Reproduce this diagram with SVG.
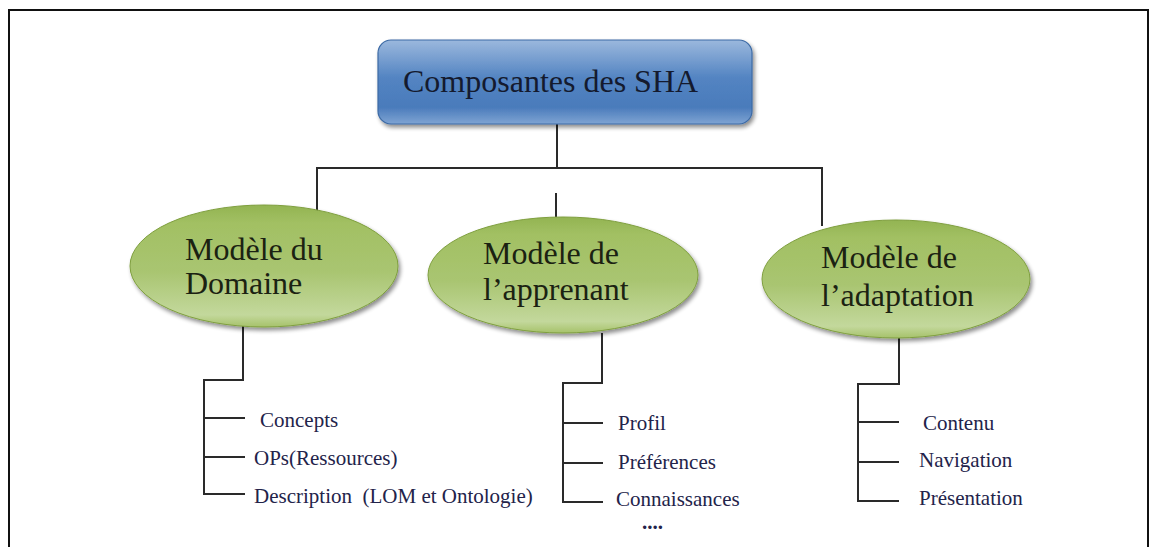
<svg xmlns="http://www.w3.org/2000/svg" width="1151" height="547" viewBox="0 0 1151 547">
  <style>
    .title { font-family: "Liberation Serif", "Times New Roman", serif; font-size: 32px; fill: #141a2e; }
    .elabel { font-family: "Liberation Serif", "Times New Roman", serif; font-size: 32px; fill: #1b2212; }
    .item { font-family: "Liberation Serif", "Times New Roman", serif; font-size: 21px; fill: #23234a; }
    .conn { fill: none; stroke: #2a2a2a; stroke-width: 2; }
    .ell { fill: url(#green); stroke: #7f9f3f; stroke-width: 1; filter: url(#shadow); }
  </style>
  <defs>
    <linearGradient id="blue" x1="0" y1="0" x2="0" y2="1">
      <stop offset="0" stop-color="#9bb8dd"/>
      <stop offset="0.45" stop-color="#5384c2"/>
      <stop offset="0.8" stop-color="#4a7bbb"/>
      <stop offset="1" stop-color="#7fa4d3"/>
    </linearGradient>
    <linearGradient id="green" x1="0" y1="0" x2="0" y2="1">
      <stop offset="0" stop-color="#93b452"/>
      <stop offset="0.15" stop-color="#a2c063"/>
      <stop offset="0.55" stop-color="#a9c571"/>
      <stop offset="0.9" stop-color="#c3d89c"/>
      <stop offset="1" stop-color="#a6c26a"/>
    </linearGradient>
    <filter id="shadow" x="-10%" y="-10%" width="125%" height="130%">
      <feGaussianBlur in="SourceAlpha" stdDeviation="2"/>
      <feOffset dx="2" dy="3" result="b"/>
      <feComponentTransfer><feFuncA type="linear" slope="0.45"/></feComponentTransfer>
      <feMerge><feMergeNode/><feMergeNode in="SourceGraphic"/></feMerge>
    </filter>
  </defs>

  <rect width="1151" height="547" fill="#ffffff"/>
  <path d="M9,547 V10 H1148 V547" fill="none" stroke="#111" stroke-width="2"/>

  <g id="connectors">
    <path class="conn" d="M557,124 V168"/>
    <path class="conn" d="M317,212 V168 H822 V226" stroke-width="1.6"/>
    <path class="conn" d="M556,193 V217"/>
    <path class="conn" d="M243,326 V380 H204 V494 H245 M204,418 H245 M204,457 H245"/>
    <path class="conn" d="M602,333 V383 H563 V502 H603 M563,423 H603 M563,463 H603"/>
    <path class="conn" d="M899,338 V384 H858 V501 H899 M858,422 H899 M858,462 H899"/>
  </g>

  <g id="root">
    <rect x="378" y="40" width="374" height="84" rx="13" fill="url(#blue)" stroke="#3c6aa5" stroke-width="1.2" filter="url(#shadow)"/>
    <text class="title" x="403" y="92">Composantes des SHA</text>
  </g>

  <g id="domaine">
    <ellipse class="ell" cx="264" cy="266" rx="134" ry="61"/>
    <text class="elabel" x="185" y="260">Modèle du</text>
    <text class="elabel" x="185" y="294">Domaine</text>
  </g>

  <g id="apprenant">
    <ellipse class="ell" cx="563" cy="275" rx="135" ry="58"/>
    <text class="elabel" x="483" y="264">Modèle de</text>
    <text class="elabel" x="483" y="300">l’apprenant</text>
  </g>

  <g id="adaptation">
    <ellipse class="ell" cx="896" cy="279" rx="134" ry="59"/>
    <text class="elabel" x="821" y="268">Modèle de</text>
    <text class="elabel" x="821" y="306">l’adaptation</text>
  </g>

  <g id="items-domaine">
    <text class="item" x="260" y="427">Concepts</text>
    <text class="item" x="254" y="465">OPs(Ressources)</text>
    <text class="item" x="254" y="503" xml:space="preserve">Description  (LOM et Ontologie)</text>
  </g>

  <g id="items-apprenant">
    <text class="item" x="618" y="430">Profil</text>
    <text class="item" x="618" y="469">Préférences</text>
    <text class="item" x="616" y="506">Connaissances</text>
    <text class="item" x="642" y="529" font-size="12" font-weight="bold">....</text>
  </g>

  <g id="items-adaptation">
    <text class="item" x="923" y="430">Contenu</text>
    <text class="item" x="919" y="467">Navigation</text>
    <text class="item" x="919" y="505">Présentation</text>
  </g>
</svg>
